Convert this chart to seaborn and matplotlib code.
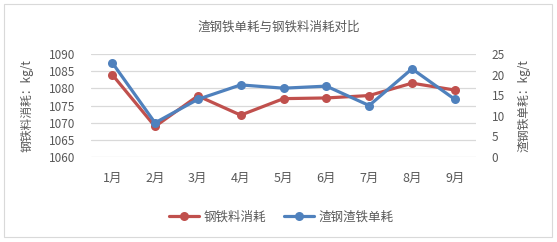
import numpy as np
import pandas as pd
import matplotlib
matplotlib.use('Agg')
import matplotlib.pyplot as plt
import seaborn as sns
from matplotlib.patches import Rectangle

months = ['1月', '2月', '3月', '4月', '5月', '6月', '7月', '8月', '9月']
steel_iron = [1084.0, 1068.9, 1077.8, 1072.2, 1077.0, 1077.2, 1077.9, 1081.5, 1079.5]
slag_iron = [22.9, 8.3, 14.0, 17.5, 16.7, 17.2, 12.5, 21.4, 14.0]

sns.set_style('white')
plt.rcParams['font.family'] = ['Noto Sans CJK SC', 'DejaVu Sans']

red = '#C0504D'
blue = '#4F81BD'
txt = '#595959'

df = pd.DataFrame({'月份': months, '钢铁料消耗': steel_iron, '渣钢渣铁单耗': slag_iron})

fig = plt.figure(figsize=(5.57, 2.42), dpi=100)
ax = fig.add_axes([0.163, 0.351, 0.692, 0.426])
ax2 = ax.twinx()

sns.lineplot(data=df, x='月份', y='钢铁料消耗', ax=ax, color=red, marker='o',
             linewidth=2.3, markersize=6.5, markeredgewidth=0, sort=False)
sns.lineplot(data=df, x='月份', y='渣钢渣铁单耗', ax=ax2, color=blue, marker='o',
             linewidth=2.3, markersize=6.5, markeredgewidth=0, sort=False)

ax.set_xlim(-0.5, 8.5)
ax.set_ylim(1060, 1090)
ax.set_yticks(np.arange(1060, 1091, 5))
ax2.set_ylim(0, 25)
ax2.set_yticks(np.arange(0, 26, 5))

ax.grid(axis='y', color='#D9D9D9', linewidth=0.9)
ax.set_axisbelow(True)
for a in (ax, ax2):
    for s in a.spines.values():
        s.set_visible(False)
    a.tick_params(length=0, labelsize=8.5, colors=txt)
ax.tick_params(axis='x', pad=11, labelsize=9)
ax.tick_params(axis='y', pad=11)
ax2.tick_params(axis='y', pad=11)

ax.set_xlabel('')
ax.set_ylabel('钢铁料消耗：kg/t', fontsize=8.5, color=txt)
ax.yaxis.set_label_coords(-0.148, 0.5)
ax2.set_ylabel('渣钢铁单耗：kg/t', fontsize=8.5, color=txt, rotation=90)
ax2.yaxis.set_label_coords(1.108, 0.5)

fig.text(0.501, 0.888, '渣钢铁单耗与钢铁料消耗对比', ha='center', va='center',
         fontsize=9, color=txt)

h1 = plt.Line2D([], [], color=red, marker='o', linewidth=2.3, markersize=6.5, markeredgewidth=0)
h2 = plt.Line2D([], [], color=blue, marker='o', linewidth=2.3, markersize=6.5, markeredgewidth=0)
fig.legend([h1, h2], ['钢铁料消耗', '渣钢渣铁单耗'], loc='center', bbox_to_anchor=(0.505, 0.103),
           ncol=2, frameon=False, fontsize=9, handlelength=2.4, columnspacing=1.5,
           labelcolor=txt, handletextpad=0.3)
if ax.get_legend():
    ax.get_legend().remove()

fig.patches.append(Rectangle((0.008, 0.02), 0.983, 0.965, transform=fig.transFigure,
                             fill=False, edgecolor='#D9D9D9', linewidth=0.8))

fig.savefig('out.png', dpi=100, facecolor='white')
